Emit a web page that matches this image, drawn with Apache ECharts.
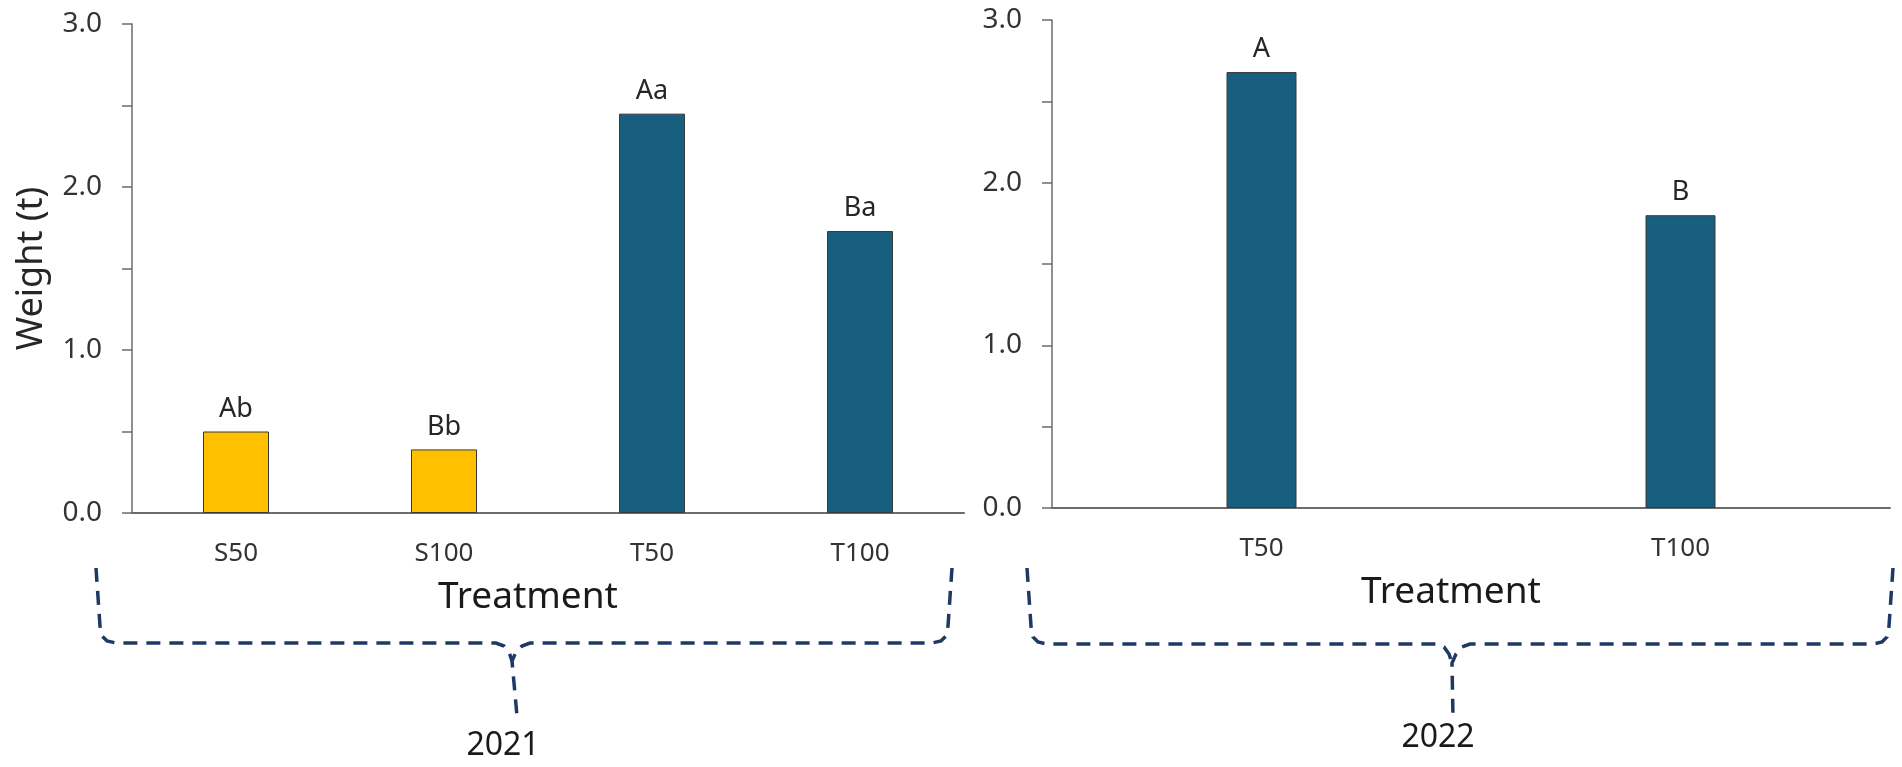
<!DOCTYPE html>
<html>
<head>
<meta charset="utf-8">
<script src="https://cdn.jsdelivr.net/npm/echarts@6/dist/echarts.min.js"></script>
<style>
  html, body { margin: 0; padding: 0; background: #fff; }
  #chart { width: 1902px; height: 767px; }
</style>
</head>
<body>
<div id="chart"></div>
<script>
// 数据
var cats2021 = ['S50', 'S100', 'T50', 'T100'];
var weights2021 = [0.50, 0.39, 2.45, 1.73];
var letters2021 = ['Ab', 'Bb', 'Aa', 'Ba'];

var cats2022 = ['T50', 'T100'];
var weights2022 = [2.68, 1.80];
var letters2022 = ['A', 'B'];

var yTicks = [0, 0.5, 1, 1.5, 2, 2.5, 3];

var chart = echarts.init(document.getElementById('chart'));

var FONT = 'Noto Sans';
var colorS = '#FFC000';
var colorT = '#175E7F';
var axisCol = '#6b6b6b';
var braceCol = '#1F3864';

function barData(cats, vals, letters) {
    return vals.map(function (v, i) {
        return {
            value: v,
            letter: letters[i],
            itemStyle: { color: cats[i].charAt(0) === 'S' ? colorS : colorT }
        };
    });
}

function yAxisOpt(gridIndex, name) {
    return {
        type: 'value',
        gridIndex: gridIndex,
        min: yTicks[0],
        max: yTicks[yTicks.length - 1],
        interval: 0.5,
        name: name,
        nameLocation: 'middle',
        nameGap: 82,
        nameTextStyle: { fontFamily: FONT, fontSize: 36, color: '#262626' },
        axisLine: { show: true, lineStyle: { color: axisCol, width: 1.5 } },
        axisTick: { show: true, length: 10, lineStyle: { color: axisCol, width: 1.5 } },
        splitLine: { show: false },
        axisLabel: {
            margin: 30,
            fontFamily: FONT,
            fontSize: 28,
            color: '#333',
            formatter: function (v) { return v % 1 === 0 ? v.toFixed(1) : ''; }
        }
    };
}

function xAxisOpt(gridIndex, cats) {
    return {
        type: 'category',
        gridIndex: gridIndex,
        data: cats,
        name: 'Treatment',
        nameLocation: 'middle',
        nameGap: 66,
        nameTextStyle: { fontFamily: FONT, fontSize: 37, color: '#1a1a1a', padding: [0, 40, 0, 0] },
        axisLine: { show: true, lineStyle: { color: axisCol, width: 2 } },
        axisTick: { show: false },
        axisLabel: { margin: 28, fontFamily: FONT, fontSize: 26, color: '#333' }
    };
}

function barSeries(idx, cats, vals, letters, width) {
    return {
        type: 'bar',
        xAxisIndex: idx,
        yAxisIndex: idx,
        barWidth: width,
        data: barData(cats, vals, letters),
        itemStyle: { borderColor: '#3a3a3a', borderWidth: 1 },
        label: {
            show: true,
            position: 'top',
            distance: 9,
            fontFamily: FONT,
            fontSize: 27,
            color: '#262626',
            formatter: function (p) { return p.data.letter; }
        }
    };
}

// 大括号 (虚线)
var braceStyle = { fill: 'none', stroke: braceCol, lineWidth: 3.5, lineDash: [14, 9] };
function braceLine(points) {
    return { type: 'polyline', shape: { points: points }, style: braceStyle };
}

var braces = [
    braceLine([[96, 568], [100, 626], [102, 636], [107, 641], [116, 643], [496, 643], [504, 646], [509, 652], [512, 661]]),
    braceLine([[952, 568], [948, 626], [946, 636], [941, 641], [932, 643], [530, 643], [522, 646], [516, 652], [512, 661], [517, 716]]),
    braceLine([[1027, 568], [1031, 626], [1033, 637], [1038, 642], [1047, 644], [1436, 644], [1444, 647], [1449, 654], [1452, 663]]),
    braceLine([[1893, 568], [1889, 626], [1887, 637], [1882, 642], [1873, 644], [1470, 644], [1462, 647], [1456, 654], [1452, 663], [1453, 718]])
];

var option = {
    backgroundColor: '#fff',
    animation: false,
    grid: [
        { left: 132, top: 24, width: 832, height: 489 },
        { left: 1052, top: 20, width: 838, height: 488 }
    ],
    xAxis: [xAxisOpt(0, cats2021), xAxisOpt(1, cats2022)],
    yAxis: [yAxisOpt(0, 'Weight (t)'), yAxisOpt(1, '')],
    series: [
        barSeries(0, cats2021, weights2021, letters2021, 66),
        barSeries(1, cats2022, weights2022, letters2022, 70)
    ],
    graphic: braces.concat([
        {
            type: 'text', x: 503, y: 746,
            style: { text: '2021', fontFamily: FONT, fontSize: 32, fill: '#1a1a1a', align: 'center', verticalAlign: 'middle' }
        },
        {
            type: 'text', x: 1438, y: 738,
            style: { text: '2022', fontFamily: FONT, fontSize: 32, fill: '#1a1a1a', align: 'center', verticalAlign: 'middle' }
        }
    ])
};

chart.setOption(option);
</script>
</body>
</html>
